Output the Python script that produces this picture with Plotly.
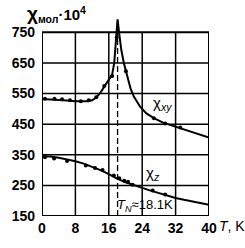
import plotly.graph_objects as go

# --- data ---
T_xy = [0, 2, 4, 6, 8, 10, 11, 12, 13, 14, 15, 16, 16.8, 17.3, 17.7, 18.1, 18.5, 19, 19.6, 20.1, 20.6, 21.2, 22, 23.5, 25, 26.8, 29, 31.3, 34, 37, 40]
chi_xy = [532, 531, 529, 527, 525, 524, 525, 528, 537, 553, 575, 595, 612, 650, 740, 792, 745, 692, 650, 625, 598, 567, 540, 507, 485, 470, 455, 445, 432, 418, 406]
T_xy_pts = [0.7, 3, 4.8, 6.7, 9.3, 11.2, 13.0, 14.9, 16.8, 17.9, 20.1, 26.8, 29.5, 33.1]
chi_xy_pts = [533, 533, 531, 528, 525, 528, 538, 575, 607, 734, 623, 469, 452, 439]

T_z = [0, 2, 4, 6, 8, 10, 12, 14, 16, 18, 20, 22, 24, 26, 28, 30, 32, 34, 36, 38, 40]
chi_z = [345, 344, 340, 335, 329, 321, 311, 300, 287, 272, 260, 250, 242, 233, 225, 216, 209, 203, 197, 192, 187]
T_z_pts = [0.7, 2.9, 6, 10.5, 12.7, 14.5, 17.2, 18.5, 19.7, 20.6, 21.7, 26.5, 29.5]
chi_z_pts = [342, 338, 330, 315, 307, 300, 282, 273, 265, 262, 252, 233, 220]

x_ticks = [0, 8, 16, 24, 32, 40]
y_ticks = [150, 250, 350, 450, 550, 650, 750]
T_N = 18.1

FONT = "Liberation Sans Narrow, Liberation Sans, Arial, sans-serif"

fig = go.Figure()
for tx, vy in ((T_xy, chi_xy), (T_z, chi_z)):
    fig.add_trace(go.Scatter(x=tx, y=vy, mode="lines", line=dict(color="black", width=2),
                             hoverinfo="skip", showlegend=False))
for tx, vy in ((T_xy_pts, chi_xy_pts), (T_z_pts, chi_z_pts)):
    fig.add_trace(go.Scatter(x=tx, y=vy, mode="markers", marker=dict(color="black", size=4),
                             hoverinfo="skip", showlegend=False, cliponaxis=False))

shapes = []
for xv in x_ticks[1:-1]:
    shapes.append(dict(type="line", xref="x", yref="y", x0=xv, x1=xv, y0=y_ticks[0], y1=y_ticks[-1],
                       line=dict(color="black", width=1.5), layer="below"))
for yv in y_ticks[1:-1]:
    shapes.append(dict(type="line", xref="x", yref="y", x0=x_ticks[0], x1=x_ticks[-1], y0=yv, y1=yv,
                       line=dict(color="black", width=1.5), layer="below"))
shapes.append(dict(type="rect", xref="x", yref="y", x0=x_ticks[0], x1=x_ticks[-1], y0=y_ticks[0], y1=y_ticks[-1],
                   line=dict(color="black", width=2), layer="below"))
shapes.append(dict(type="line", xref="x", yref="y", x0=T_N, x1=T_N, y0=y_ticks[0], y1=max(chi_xy),
                   line=dict(color="black", width=1.3, dash="6px,3px")))

annotations = [
    dict(x=-0.10, y=1.015, xref="paper", yref="paper", xanchor="left", yanchor="middle", showarrow=False,
         text="<span style='font-size:19px'>χ</span><sub>мол</sub>·10<sup>4</sup>",
         font=dict(family=FONT, size=15, color="black", weight="bold")),
    dict(x=26.0, y=519, xref="x", yref="y", xanchor="left", yanchor="middle", showarrow=False,
         text="χ<sub><i>xy</i></sub>", font=dict(family=FONT, size=15, color="black")),
    dict(x=24.5, y=288, xref="x", yref="y", xanchor="left", yanchor="middle", showarrow=False,
         text="χ<sub><i>z</i></sub>", font=dict(family=FONT, size=15, color="black")),
    dict(x=17.6, y=185, xref="x", yref="y", xanchor="left", yanchor="middle", showarrow=False,
         text="<i>T<sub>N</sub></i>≈18.1K", font=dict(family=FONT, size=13, color="black")),
    dict(x=1.05, y=-0.05, xref="paper", yref="paper", xanchor="left", yanchor="middle", showarrow=False,
         text="<i>T</i>, K", font=dict(family=FONT, size=14, color="black")),
]

fig.update_layout(
    width=245, height=248, margin=dict(l=30, r=36, t=17, b=25),
    paper_bgcolor="white", plot_bgcolor="white",
    shapes=shapes, annotations=annotations,
    xaxis=dict(range=[0, 40], tickvals=x_ticks, ticktext=[str(v) for v in x_ticks], showgrid=False,
               zeroline=False, showline=False, ticks="", ticklabelstandoff=2,
               tickfont=dict(family=FONT, size=14, color="black", weight="bold")),
    yaxis=dict(range=[150, 800], tickvals=y_ticks, ticktext=[str(v) for v in y_ticks], showgrid=False,
               zeroline=False, showline=False, ticks="", ticklabelstandoff=6,
               tickfont=dict(family=FONT, size=14, color="black", weight="bold")),
)

fig.write_html("out.html")
